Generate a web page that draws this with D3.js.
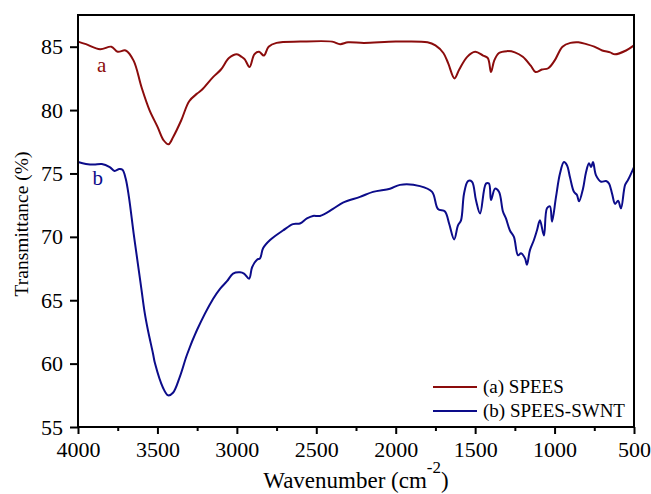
<!DOCTYPE html>
<html>
<head>
  <meta charset="utf-8">
  <title>FTIR spectra</title>
  <script src="https://d3js.org/d3.v7.min.js"></script>
  <style>
    body { margin: 0; background: #fff; }
    svg text { font-family: "Liberation Serif", "DejaVu Serif", "Noto Serif", "Times New Roman", Times, serif; fill: #000; }
  </style>
</head>
<body>
<div id="output"></div>

<script type="text/javascript">

  // wavenumber (cm-1) / transmittance (%)
  var speesWave = [4000, 3950, 3861, 3790, 3750, 3700, 3650, 3600, 3550, 3500, 3460, 3430, 3400, 3350, 3300, 3250,
    3220, 3150, 3100, 3050, 3000, 2970, 2950, 2920, 2890, 2860, 2830, 2800, 2750, 2600, 2400, 2350, 2300, 2200, 2000,
    1800, 1750, 1700, 1670, 1630, 1600, 1550, 1500, 1450, 1420, 1400, 1380, 1350, 1300, 1250, 1200, 1150, 1120,
    1080, 1040, 1000, 950, 900, 850, 800, 750, 700, 650, 620, 550, 500];
  var speesT = [85.4, 85.2, 84.8, 85.0, 84.6, 84.7, 83.9, 81.8, 80.0, 78.7, 77.6, 77.3, 77.9, 79.2, 80.7, 81.3,
    81.6, 82.6, 83.2, 84.1, 84.4, 84.2, 84.0, 83.4, 84.4, 84.6, 84.3, 85.0, 85.3, 85.4, 85.4, 85.2, 85.35, 85.3, 85.4,
    85.35, 85.1, 84.5, 83.7, 82.5, 83.2, 84.2, 84.6, 84.3, 84.1, 83.0, 83.9, 84.5, 84.65, 84.55, 84.2, 83.5, 83.0,
    83.2, 83.3, 83.9, 85.0, 85.3, 85.35, 85.2, 85.0, 84.7, 84.55, 84.4, 84.7, 85.1];

  var swntWave = [4000, 3950, 3900, 3850, 3800, 3770, 3740, 3720, 3700, 3680, 3650, 3620, 3600, 3580, 3560, 3528,
    3515, 3465, 3433, 3402, 3358, 3314, 3251, 3150, 3106, 3062, 3024, 2980, 2955, 2923, 2904, 2873, 2854, 2835, 2791,
    2710, 2647, 2603, 2559, 2521, 2477, 2395, 2332, 2225, 2143, 2036, 1973, 1847, 1771, 1734, 1690, 1664, 1632, 1608,
    1589, 1570, 1545, 1520, 1495, 1469, 1432, 1413, 1400, 1375, 1350, 1325, 1306, 1281, 1256, 1230, 1211, 1186, 1174,
    1155, 1130, 1111, 1092, 1067, 1048, 1029, 1016, 991, 966, 941, 922, 903, 878, 859, 846, 821, 802, 783, 770, 758,
    739, 707, 676, 657, 638, 619, 600, 582, 556, 537, 500];
  var swntT = [75.9, 75.75, 75.7, 75.75, 75.5, 75.2, 75.35, 75.3, 74.6, 73.2, 70.3, 67.6, 65.8, 64.0, 62.65, 60.8,
    60.0, 58.1, 57.5, 57.7, 59.0, 60.7, 62.65, 65.1, 65.9, 66.5, 67.1, 67.2, 67.1, 66.7, 67.6, 68.2, 68.3, 69.1, 69.75,
    70.5, 71.0, 71.05, 71.45, 71.65, 71.65, 72.2, 72.7, 73.15, 73.55, 73.8, 74.1, 74.0, 73.55, 72.2, 72.0, 71.05, 69.8, 70.9,
    71.3, 73.4, 74.4, 74.35, 72.9, 71.85, 74.2, 74.2, 72.9, 73.8, 73.55, 72.0, 71.45, 70.5, 70.0, 68.55, 68.7, 68.3, 67.8,
    68.95, 69.75, 70.5, 71.3, 70.1, 72.25, 72.4, 71.2, 73.15, 75.0, 75.9, 75.65, 74.7, 73.55, 73.3, 72.8, 73.8, 75.1, 75.8, 75.5, 75.9,
    74.85, 74.35, 74.4, 74.2, 73.4, 72.6, 72.85, 72.25, 74.1, 74.5, 75.5];

  var seriesNames = ["(a) SPEES", "(b) SPEES-SWNT"];
  var curveLetters = ["a", "b"];
  var xTicks = [4000, 3500, 3000, 2500, 2000, 1500, 1000, 500];
  var xMinor = [3750, 3250, 2750, 2250, 1750, 1250, 750];
  var yTicks = [55, 60, 65, 70, 75, 80, 85];

  var w = 651;
  var h = 494;
  var margin = {top: 15, right: 17, bottom: 67, left: 78},
      wChart = w - margin.left - margin.right,
      hChart = h - margin.top - margin.bottom;

  var colors = ["#8b0c0c", "#0c0c8a"];

  var x = d3.scaleLinear().domain([4000, 500]).range([0, wChart]);
  var y = d3.scaleLinear().domain([55, 87.5]).range([hChart, 0]);

  var svg = d3.select("#output").append("svg")
      .attr("width", w)
      .attr("height", h);

  var chart = svg.append("g")
      .attr("transform", "translate(" + margin.left + "," + margin.top + ")");

  var line = d3.line()
      .x(function(d){ return x(d[0]); })
      .y(function(d){ return y(d[1]); })
      .curve(d3.curveCatmullRom.alpha(0.5));

  var series = [d3.zip(speesWave, speesT), d3.zip(swntWave, swntT)];

  chart.selectAll(".spectrum")
      .data(series)
      .enter()
      .append("path")
      .attr("class", "spectrum")
      .attr("fill", "none")
      .attr("stroke", function(d, i){ return colors[i]; })
      .attr("stroke-width", 2)
      .attr("d", line);

  // frame
  chart.append("rect")
      .attr("width", wChart)
      .attr("height", hChart)
      .attr("fill", "none")
      .attr("stroke", "#000")
      .attr("stroke-width", 2);

  var xAxis = d3.axisBottom(x).tickValues(xTicks).tickSize(7).tickPadding(7).tickFormat(d3.format("d"));
  var xMinorAxis = d3.axisBottom(x).tickValues(xMinor).tickSize(4).tickFormat("");
  var yAxis = d3.axisLeft(y).tickValues(yTicks).tickSize(8).tickPadding(7);

  var gx = chart.append("g").attr("transform", "translate(0," + hChart + ")").call(xAxis);
  chart.append("g").attr("transform", "translate(0," + hChart + ")").call(xMinorAxis);
  var gy = chart.append("g").call(yAxis);

  chart.selectAll(".domain").remove();
  chart.selectAll("g").attr("font-family", null);
  chart.selectAll(".tick line").attr("stroke", "#000").attr("stroke-width", 2);
  gx.selectAll("text").style("font-size", "22px").attr("dy", "0.71em");
  gy.selectAll("text").style("font-size", "22px");

  // curve letters
  chart.selectAll(".letter")
      .data(curveLetters)
      .enter()
      .append("text")
      .attr("x", function(d, i){ return x(i === 0 ? 3880 : 3909); })
      .attr("y", function(d, i){ return y(i === 0 ? 83.0 : 74.1); })
      .style("font-size", "21px")
      .style("fill", function(d, i){ return colors[i]; })
      .text(function(d){ return d; });

  // legend
  var legend = chart.selectAll(".legend")
      .data(seriesNames)
      .enter()
      .append("g")
      .attr("transform", function(d, i){ return "translate(" + (433 - margin.left) + "," + (387 - margin.top + i * 24) + ")"; });

  legend.append("line")
      .attr("x1", 0).attr("x2", 44)
      .attr("stroke", function(d, i){ return colors[i]; })
      .attr("stroke-width", 2);

  legend.append("text")
      .attr("x", 50)
      .attr("dy", "0.33em")
      .style("font-size", "19px")
      .text(function(d){ return d; });

  // axis titles
  svg.append("text")
      .attr("transform", "translate(28," + (margin.top + 209) + ") rotate(-90)")
      .attr("text-anchor", "middle")
      .style("font-size", "19.5px")
      .text("Transmittance (%)");

  var xt = svg.append("text")
      .attr("x", margin.left + wChart / 2)
      .attr("y", 488)
      .attr("text-anchor", "middle")
      .style("font-size", "23px");
  xt.append("tspan").text("Wavenumber (cm");
  xt.append("tspan").attr("dy", -15).style("font-size", "17px").text("-2");
  xt.append("tspan").attr("dy", 15).text(")");

</script>

</body>
</html>
